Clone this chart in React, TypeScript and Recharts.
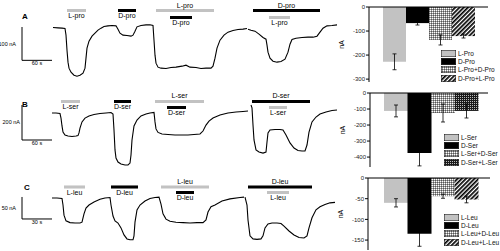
import React from 'react';
import {
  LineChart, Line, XAxis, YAxis, ReferenceArea, ReferenceLine,
  BarChart, Bar, Cell, ErrorBar, Legend,
} from 'recharts';

// ---------- trace data: [time (s), current (nA)] ----------
const traceA1 = [
  [0, 0], [10, -1], [18, -2], [24, -3], [26, -23], [28, -68], [30, -104], [32, -122], [36, -134],
  [42, -143], [48, -146], [54, -143], [60, -137], [64, -122], [66, -92], [68, -62], [72, -41],
  [78, -26], [84, -17], [90, -8], [96, -2], [102, 3], [110, 5], [118, 6], [126, 5], [130, -5],
  [134, -17], [140, -23], [148, -24], [156, -26], [160, -23], [164, -11], [168, 2], [176, 6],
  [186, 8], [194, 8], [200, 6], [202, -38], [204, -83], [206, -107], [210, -119], [216, -122],
  [226, -123], [236, -120], [246, -119], [258, -116], [266, -113], [274, -119], [286, -120],
  [296, -123], [306, -122], [316, -122], [320, -116], [324, -92], [328, -62], [334, -38],
  [342, -23], [350, -14], [360, -9], [370, -6], [380, -5], [388, -3],
];
const traceA2 = [
  [390, -5], [396, -8], [404, -11], [412, -20], [420, -30], [426, -35], [428, -53], [430, -74],
  [434, -92], [440, -101], [448, -104], [456, -102], [464, -95], [470, -74], [474, -50],
  [478, -36], [486, -32], [498, -30], [510, -29], [520, -29], [528, -26], [534, -14], [540, -2],
  [548, 5], [558, 6], [568, 8],
];
const traceB1 = [
  [-2, 0], [6, 0], [14, -3], [16, -29], [18, -74], [20, -109], [24, -126], [30, -131], [38, -134],
  [46, -131], [50, -129], [52, -114], [54, -86], [58, -51], [64, -29], [72, -17], [82, -9],
  [94, -3], [106, 0], [116, 3], [120, -6], [122, -97], [124, -211], [126, -257], [130, -280],
  [136, -291], [144, -297], [150, -297], [154, -286], [156, -240], [158, -154], [162, -74],
  [168, -40], [176, -17], [186, -6], [194, 0], [202, 3], [204, -51], [206, -91], [210, -111],
  [218, -120], [230, -123], [244, -126], [258, -126], [270, -126], [282, -123], [294, -120],
  [300, -103], [306, -69], [312, -46], [320, -29], [334, -11], [350, 0], [366, 6], [380, 9], [390, 11],
];
const traceB2 = [
  [396, 46], [398, 29], [400, -69], [402, -154], [406, -211], [412, -223], [420, -229], [426, -223],
  [428, -166], [430, -114], [434, -97], [444, -94], [454, -94], [460, -97], [466, -126], [474, -171],
  [482, -200], [490, -214], [498, -217], [504, -217], [508, -183], [512, -109], [518, -51],
  [526, -23], [534, -6], [546, 6], [558, 14], [568, 17],
];
const traceC1 = [
  [-1, 0], [4, 0], [9, -1], [10, -16], [11, -39], [13, -52], [17, -56], [22, -57], [27, -57],
  [29, -55], [31, -36], [33, -23], [36, -16], [41, -9], [47, -3], [52, 0], [57, 1], [58, -16],
  [60, -41], [62, -52], [65, -57], [68, -68], [71, -84], [74, -93], [77, -95], [80, -95], [81, -86],
  [82, -55], [84, -27], [87, -16], [92, -7], [97, -1], [102, 1], [106, 2], [108, -14], [110, -36],
  [113, -48], [117, -53], [123, -55], [130, -56], [137, -57], [144, -56], [150, -56], [153, -50],
  [155, -32], [158, -20], [162, -16], [169, -7], [177, -2], [187, 1], [191, 2],
];
const traceC2 = [
  [192, 2], [194, -16], [195, -50], [197, -86], [200, -93], [204, -94], [208, -93], [210, -86],
  [212, -68], [215, -59], [219, -57], [224, -57], [228, -58], [231, -64], [236, -75], [241, -84],
  [246, -90], [251, -91], [254, -86], [256, -68], [259, -45], [263, -27], [267, -20], [272, -15],
  [277, -11], [282, -10],
];

// ---------- drug applications: [label, start s, end s, tier] ----------
const appsA: [string, number, number, string][] = [
  ['L-pro', 28, 66, 'outer'], ['D-pro', 130, 166, 'outer'], ['L-pro', 206, 322, 'outer'],
  ['D-pro', 234, 278, 'inner'], ['D-pro', 400, 534, 'outer'], ['L-pro', 432, 474, 'inner'],
];
const appsB: [string, number, number, string][] = [
  ['L-ser', 16, 54, 'outer'], ['D-ser', 122, 156, 'outer'], ['L-ser', 204, 302, 'outer'],
  ['D-ser', 228, 266, 'inner'], ['D-ser', 398, 514, 'outer'], ['L-ser', 432, 468, 'inner'],
];
const appsC: [string, number, number, string][] = [
  ['L-leu', 11, 32, 'outer'], ['D-leu', 58, 85, 'outer'], ['L-leu', 108, 156, 'outer'],
  ['D-leu', 123, 141, 'inner'], ['D-leu', 195, 259, 'outer'], ['L-leu', 214, 236, 'inner'],
];

// ---------- scale bars: [nA, s] ----------
const scaleA = [100, 60];
const scaleB = [200, 60];
const scaleC = [50, 30];

// ---------- bar chart data ----------
const namesA = ['L-Pro', 'D-Pro', 'L-Pro+D-Pro', 'D-Pro+L-Pro'];
const valuesA = [-228, -67, -137, -121];
const errsA = [33, 8, 21, 8];
const ticksA = [0, -100, -200, -300];

const namesB = ['L-Ser', 'D-Ser', 'L-Ser+D-Ser', 'D-Ser+L-Ser'];
const valuesB = [-112, -375, -125, -112];
const errsB = [37, 80, 56, 44];
const ticksB = [0, -100, -200, -300, -400];

const namesC = ['L-Leu', 'D-Leu', 'L-Leu+D-Leu', 'D-Leu+L-Leu'];
const valuesC = [-60, -135, -44, -52];
const errsC = [10, 30, 5, 8];
const ticksC = [0, -50, -100, -150];

// ---------- layout / style ----------
const FONT = '"Liberation Sans", Arial, Helvetica, sans-serif';
const GRAY = '#c2c2c2';

const rowA = { top: 0, height: 85, x: [-106, 584], y: [-172.5, 82.5], outer: [46.5, 55.5], inner: [25.5, 34.5], sx: -62, sy: 1.5, vOff: 6 };
const rowB = { top: 85, height: 85, x: [-106, 584], y: [-325.7, 160], outer: [57.1, 74.3], inner: [22.9, 40], sx: -62, sy: 45.7, vOff: 2 };
const rowC = { top: 165, height: 86, x: [-53, 292], y: [-120.5, 75], outer: [21.5, 28.5], inner: [9.1, 15.9], sx: -31, sy: 2.3, vOff: 6 };

const barA = { top: 0, height: 90, margin: { top: 7, right: 7, bottom: 8, left: 9 }, pad: { left: 14, right: 13 }, domain: [-312, 0], legend: { left: 111, top: 49 } };
const barB = { top: 85, height: 90, margin: { top: 8, right: 7, bottom: 8, left: 10 }, pad: { left: 14, right: 10 }, domain: [-462, 0], legend: { left: 114, top: 48 } };
const barC = { top: 165, height: 86, margin: { top: 13, right: 5, bottom: 1, left: 8 }, pad: { left: 16, right: 12 }, domain: [-174, 0], legend: { left: 114, top: 48 } };

const toPts = (pairs: number[][]) => pairs.map(([t, i]) => ({ t, i }));

function TraceRow({ cfg, seg1, seg2, apps, scale, letter }: any) {
  const [nA, sec] = scale;
  const bot = cfg.sy - nA;
  return (
    <div style={{ position: 'absolute', left: 0, top: cfg.top, width: 345, height: cfg.height }}>
      <LineChart width={345} height={cfg.height} margin={{ top: 0, right: 0, bottom: 0, left: 0 }}>
        <XAxis type="number" dataKey="t" domain={cfg.x} hide allowDataOverflow />
        <YAxis type="number" domain={cfg.y} hide allowDataOverflow />
        {apps.map(([label, t1, t2, tier]: any, k: number) => {
          const range = tier === 'outer' ? cfg.outer : cfg.inner;
          const hasInner = tier === 'outer' && apps.some(([, a, b, tr]: any) => tr === 'inner' && a >= t1 && b <= t2);
          return (
            <ReferenceArea
              key={k}
              x1={t1}
              x2={t2}
              y1={range[0]}
              y2={range[1]}
              fill={label[0] === 'L' ? GRAY : '#000'}
              fillOpacity={1}
              stroke="none"
              ifOverflow="visible"
              label={{ value: label, position: hasInner ? 'top' : 'bottom', offset: 1.5, fontSize: 7, fill: '#000', fontFamily: FONT }}
            />
          );
        })}
        <ReferenceLine
          segment={[{ x: cfg.sx, y: cfg.sy }, { x: cfg.sx, y: bot }]}
          stroke="#000"
          strokeWidth={1}
          ifOverflow="visible"
          label={{ value: `${nA} nA`, position: 'left', offset: cfg.vOff, fontSize: 5.5, fill: '#000', fontFamily: FONT }}
        />
        <ReferenceLine
          segment={[{ x: cfg.sx, y: bot }, { x: cfg.sx + sec, y: bot }]}
          stroke="#000"
          strokeWidth={1}
          ifOverflow="visible"
          label={{ value: `${sec} s`, position: 'bottom', offset: 1, fontSize: 5.5, fill: '#000', fontFamily: FONT }}
        />
        <Line data={toPts(seg1)} dataKey="i" type="linear" stroke="#000" strokeWidth={1.1} dot={false} activeDot={false} isAnimationActive={false} />
        <Line data={toPts(seg2)} dataKey="i" type="linear" stroke="#000" strokeWidth={1.1} dot={false} activeDot={false} isAnimationActive={false} />
      </LineChart>
      <div style={{ position: 'absolute', left: letter.left, top: letter.top, fontSize: 8, fontWeight: 'bold', fontFamily: FONT, lineHeight: '8px' }}>
        {letter.text}
      </div>
    </div>
  );
}

function BarPanel({ cfg, names, values, errs, ticks, fills }: any) {
  const data = names.map((n: string, k: number) => ({ name: n, v: values[k], e: errs[k] }));
  const legendContent = () => (
    <div style={{ fontSize: 6.5, fontFamily: FONT, color: '#111' }}>
      {names.map((n: string, k: number) => (
        <div key={n} style={{ display: 'flex', alignItems: 'center', height: 8.4, whiteSpace: 'nowrap' }}>
          <svg width={15} height={7} style={{ marginRight: 2, flex: 'none' }}>
            <rect x={0.25} y={0.25} width={14.5} height={6.5} fill={fills[k]} stroke="#000" strokeWidth={0.5} />
          </svg>
          <span>{n}</span>
        </div>
      ))}
    </div>
  );
  return (
    <div style={{ position: 'absolute', left: 330, top: cfg.top, width: 165, height: cfg.height }}>
      <BarChart width={165} height={cfg.height} data={data} margin={cfg.margin} barCategoryGap={0} barGap={0}>
        <XAxis dataKey="name" hide padding={cfg.pad} />
        <YAxis
          type="number"
          domain={cfg.domain}
          ticks={ticks}
          interval={0}
          width={30}
          allowDataOverflow
          tick={{ fontSize: 6, fill: '#222', fontFamily: FONT }}
          tickSize={3}
          tickMargin={1}
          axisLine={{ stroke: '#000' }}
          tickLine={{ stroke: '#000' }}
          label={{ value: 'nA', angle: -90, position: 'center', dx: -12, fontSize: 7, fill: '#000', fontFamily: FONT }}
        />
        <ReferenceLine y={0} stroke="#000" strokeWidth={1} />
        <Bar dataKey="v" isAnimationActive={false} activeBar={false}>
          {data.map((d: any, k: number) => (
            <Cell key={d.name} fill={fills[k]} />
          ))}
          <ErrorBar dataKey="e" width={2} stroke="#000" strokeWidth={0.8} direction="y" />
        </Bar>
        <Legend
          content={legendContent}
          layout="vertical"
          align="center"
          verticalAlign="middle"
          wrapperStyle={{ left: cfg.legend.left, top: cfg.legend.top, width: 60, height: 36 }}
        />
      </BarChart>
    </div>
  );
}

export default function App() {
  return (
    <div style={{ position: 'absolute', left: 0, top: 0, width: 500, height: 251, background: '#fff', overflow: 'hidden', fontFamily: FONT }}>
      <svg width={0} height={0} style={{ position: 'absolute' }}>
        <defs>
          <pattern id="dots" width={2} height={2} patternUnits="userSpaceOnUse">
            <rect width={2} height={2} fill="#9a9a9a" />
            <rect width={1} height={1} fill="#fff" />
            <rect x={1} y={1} width={1} height={1} fill="#555" />
          </pattern>
          <pattern id="hatch" width={3} height={3} patternUnits="userSpaceOnUse" patternTransform="rotate(45)">
            <rect width={3} height={3} fill="#fff" />
            <rect width={1.7} height={3} fill="#000" />
          </pattern>
          <pattern id="darkdots" width={2} height={2} patternUnits="userSpaceOnUse">
            <rect width={2} height={2} fill="#1a1a1a" />
            <rect width={1} height={1} fill="#bbb" />
          </pattern>
        </defs>
      </svg>

      <TraceRow cfg={rowA} seg1={traceA1} seg2={traceA2} apps={appsA} scale={scaleA} letter={{ left: 22, top: 13, text: 'A' }} />
      <TraceRow cfg={rowB} seg1={traceB1} seg2={traceB2} apps={appsB} scale={scaleB} letter={{ left: 22, top: 16, text: 'B' }} />
      <TraceRow cfg={rowC} seg1={traceC1} seg2={traceC2} apps={appsC} scale={scaleC} letter={{ left: 24, top: 19, text: 'C' }} />

      <BarPanel cfg={barA} names={namesA} values={valuesA} errs={errsA} ticks={ticksA} fills={[GRAY, '#000', 'url(#dots)', 'url(#hatch)']} />
      <BarPanel cfg={barB} names={namesB} values={valuesB} errs={errsB} ticks={ticksB} fills={[GRAY, '#000', 'url(#dots)', 'url(#darkdots)']} />
      <BarPanel cfg={barC} names={namesC} values={valuesC} errs={errsC} ticks={ticksC} fills={[GRAY, '#000', 'url(#dots)', 'url(#hatch)']} />
    </div>
  );
}
